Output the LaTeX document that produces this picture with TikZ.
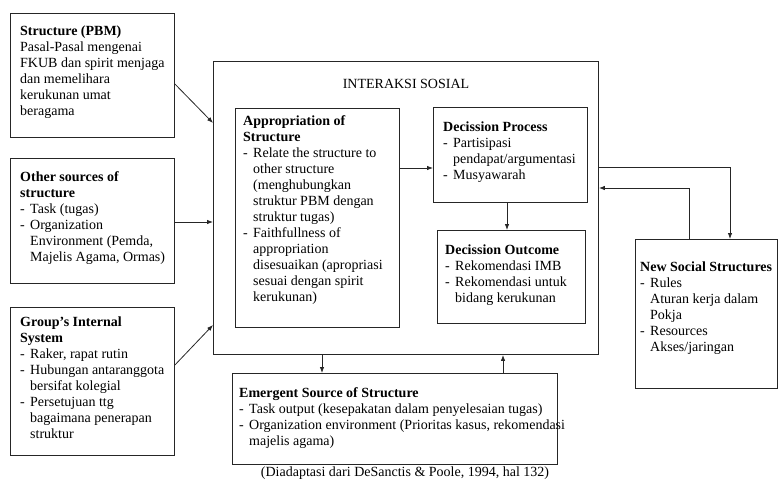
\documentclass[tikz,border=0pt]{standalone}
\usepackage{fontspec}
\setmainfont{Liberation Serif}
\usetikzlibrary{arrows.meta,calc}
\newcommand\itemdash{\makebox[10pt][l]{-}}
\newcommand\itemind{\hspace*{10pt}}
\tikzset{
  boxr/.style={draw=black!85, line width=0.9pt, anchor=north west, inner sep=0pt},
  txt/.style={anchor=north west, inner sep=0pt, align=left, font=\fontsize{14}{16}\selectfont},
  conn/.style={draw=black!85, line width=0.8pt, -{Latex[length=6pt,width=4.5pt]}},
}
\begin{document}
\begin{tikzpicture}[x=1pt,y=-1pt]
\useasboundingbox (0,0) rectangle (779,480);
% left boxes
\node[boxr, minimum width=164pt, minimum height=124pt] (b1) at (10,13) {};
\node[txt] (t1) at (20,25.5) {\textbf{Structure (PBM)}\\Pasal-Pasal mengenai\\FKUB dan spirit menjaga\\dan memelihara\\kerukunan umat\\beragama};
\node[boxr, minimum width=164pt, minimum height=125pt] (b2) at (10,158) {};
\node[txt] (t2) at (20,171.5) {\textbf{Other sources of}\\\textbf{structure}\\\itemdash Task (tugas)\\\itemdash Organization\\\itemind Environment (Pemda,\\\itemind Majelis Agama, Ormas)};
\node[boxr, minimum width=164pt, minimum height=148pt] (b3) at (10,307) {};
\node[txt] (t3) at (20,316.5) {\textbf{Group’s Internal}\\\textbf{System}\\\itemdash Raker, rapat rutin\\\itemdash Hubungan antaranggota\\\itemind bersifat kolegial\\\itemdash Persetujuan ttg\\\itemind bagaimana penerapan\\\itemind struktur};
% main box
\node[boxr, minimum width=385pt, minimum height=293pt] (m) at (213,61) {};
\node[anchor=base, inner sep=0pt, font=\fontsize{14}{16}\selectfont] (title) at (406,88) {INTERAKSI SOSIAL};
\node[boxr, minimum width=164pt, minimum height=219pt] (ap) at (235,108) {};
\node[txt] (tap) at (243,115.5) {\textbf{Appropriation of}\\\textbf{Structure}\\\itemdash Relate the structure to\\\itemind other structure\\\itemind (menghubungkan\\\itemind struktur PBM dengan\\\itemind struktur tugas)\\\itemdash Faithfullness of\\\itemind appropriation\\\itemind disesuaikan (apropriasi\\\itemind sesuai dengan spirit\\\itemind kerukunan)};
\node[boxr, minimum width=154pt, minimum height=95pt] (dp) at (433,107) {};
\node[txt] (tdp) at (443,121.5) {\textbf{Decission Process}\\\itemdash Partisipasi\\\itemind pendapat/argumentasi\\\itemdash Musyawarah};
\node[boxr, minimum width=148pt, minimum height=93pt] (do) at (437,230) {};
\node[txt] (tdo) at (445,244.5) {\textbf{Decission Outcome}\\\itemdash Rekomendasi IMB\\\itemdash Rekomendasi untuk\\\itemind bidang kerukunan};
% right box
\node[boxr, minimum width=142pt, minimum height=149pt] (ns) at (635,239) {};
\node[txt] (tns) at (640,261.5) {\textbf{New Social Structures}\\\itemdash Rules\\\itemind Aturan kerja dalam\\\itemind Pokja\\\itemdash Resources\\\itemind Akses/jaringan};
% bottom box
\node[boxr, minimum width=325pt, minimum height=91pt] (em) at (232,373) {};
\node[txt] (tem) at (239,387.5) {\textbf{Emergent Source of Structure}\\\itemdash Task output (kesepakatan dalam penyelesaian tugas)\\\itemdash Organization environment (Prioritas kasus, rekomendasi\\\itemind majelis agama)};
\node[anchor=base, inner sep=0pt, font=\fontsize{14}{16}\selectfont] (cap) at (405,476) {(Diadaptasi dari DeSanctis \& Poole, 1994, hal 132)};
% connectors
\draw[conn] (b1.east |- 0,84) -- (m.west |- 0,123);
\draw[conn] (b2.east |- 0,222) -- (m.west |- 0,222);
\draw[conn] (b3.east |- 0,365) -- (m.west |- 0,325);
\draw[conn] (ap.east |- 0,168) -- (dp.west |- 0,168);
\draw[conn] (dp.south -| 507,0) -- (do.north -| 507,0);
\draw[conn] (m.east |- 0,167) -| (ns.north -| 730,0);
\draw[conn] (ns.north -| 689,0) |- (m.east |- 0,188);
\draw[conn] (m.south -| 322,0) -- (em.north -| 322,0);
\draw[conn] (em.north -| 503,0) -- (m.south -| 503,0);
\end{tikzpicture}
\end{document}
